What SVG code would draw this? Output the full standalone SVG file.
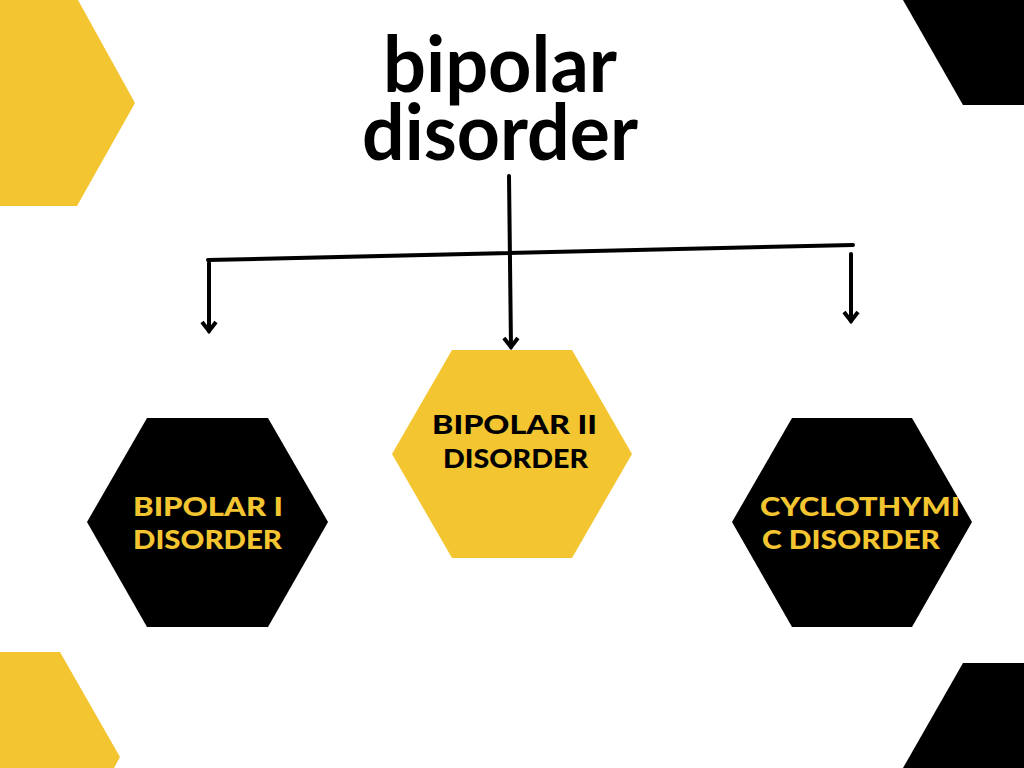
<svg xmlns="http://www.w3.org/2000/svg" width="1024" height="768" viewBox="0 0 1024 768">
<defs>
<style>
.yel{fill:#F3C530}
.blk{fill:#000}
.lbl{font-family:"Lato","Open Sans","Liberation Sans",sans-serif;font-weight:900;font-size:27px}
.ly{fill:#F3C530}
.lk{fill:#000}
.title{font-family:"Lato","Liberation Sans",sans-serif;font-weight:700;font-size:78px;fill:#000;text-anchor:middle}
.con{stroke:#000;stroke-width:4;fill:none;stroke-linecap:round}
</style>
<marker id="arr" markerUnits="userSpaceOnUse" markerWidth="24" markerHeight="24" refX="0" refY="0" viewBox="-12 -12 24 24" orient="auto" overflow="visible">
<path d="M-9,-7 L0,0 L-9,7" fill="none" stroke="#000" stroke-width="4" stroke-linejoin="miter"/>
</marker>
</defs>
<rect width="1024" height="768" fill="#fff"/>
<g id="decor">
<polygon class="yel" points="0,0 78,0 135,103 77,206 0,206"/>
<polygon class="blk" points="903,0 1024,0 1024,105 963,105"/>
<polygon class="yel" points="0,652 60,652 120,757 114,768 0,768"/>
<polygon class="blk" points="963,663 1024,663 1024,768 903,768"/>
</g>
<g id="title">
<text class="title" x="500" y="92" textLength="234" lengthAdjust="spacingAndGlyphs">bipolar</text>
<text class="title" x="500" y="160" textLength="276" lengthAdjust="spacingAndGlyphs">disorder</text>
</g>
<g id="connectors">
<polyline class="con" points="208,260 853,245"/>
<line class="con" x1="509" y1="176" x2="511" y2="347" marker-end="url(#arr)"/>
<line class="con" x1="209" y1="263" x2="209" y2="331" marker-end="url(#arr)"/>
<line class="con" x1="851" y1="254" x2="851" y2="321" marker-end="url(#arr)"/>
</g>
<g id="node-bipolar-i">
<polygon class="blk" points="87,522 147,418 268,418 328,522 268,627 147,627"/>
<text class="lbl ly" x="133" y="516" textLength="150" lengthAdjust="spacingAndGlyphs">BIPOLAR I</text>
<text class="lbl ly" x="133" y="549" textLength="149" lengthAdjust="spacingAndGlyphs">DISORDER</text>
</g>
<g id="node-bipolar-ii">
<polygon class="yel" points="392,454 452,350 572,350 632,454 572,558 452,558"/>
<text class="lbl lk" x="432" y="434" textLength="165" lengthAdjust="spacingAndGlyphs">BIPOLAR II</text>
<text class="lbl lk" x="443" y="468" textLength="145" lengthAdjust="spacingAndGlyphs">DISORDER</text>
</g>
<g id="node-cyclothymic">
<polygon class="blk" points="732,522 792,418 912,418 972,522 912,627 792,627"/>
<text class="lbl ly" x="760" y="516" textLength="200" lengthAdjust="spacingAndGlyphs">CYCLOTHYMI</text>
<text class="lbl ly" x="762" y="549" textLength="178" lengthAdjust="spacingAndGlyphs">C DISORDER</text>
</g>
</svg>
